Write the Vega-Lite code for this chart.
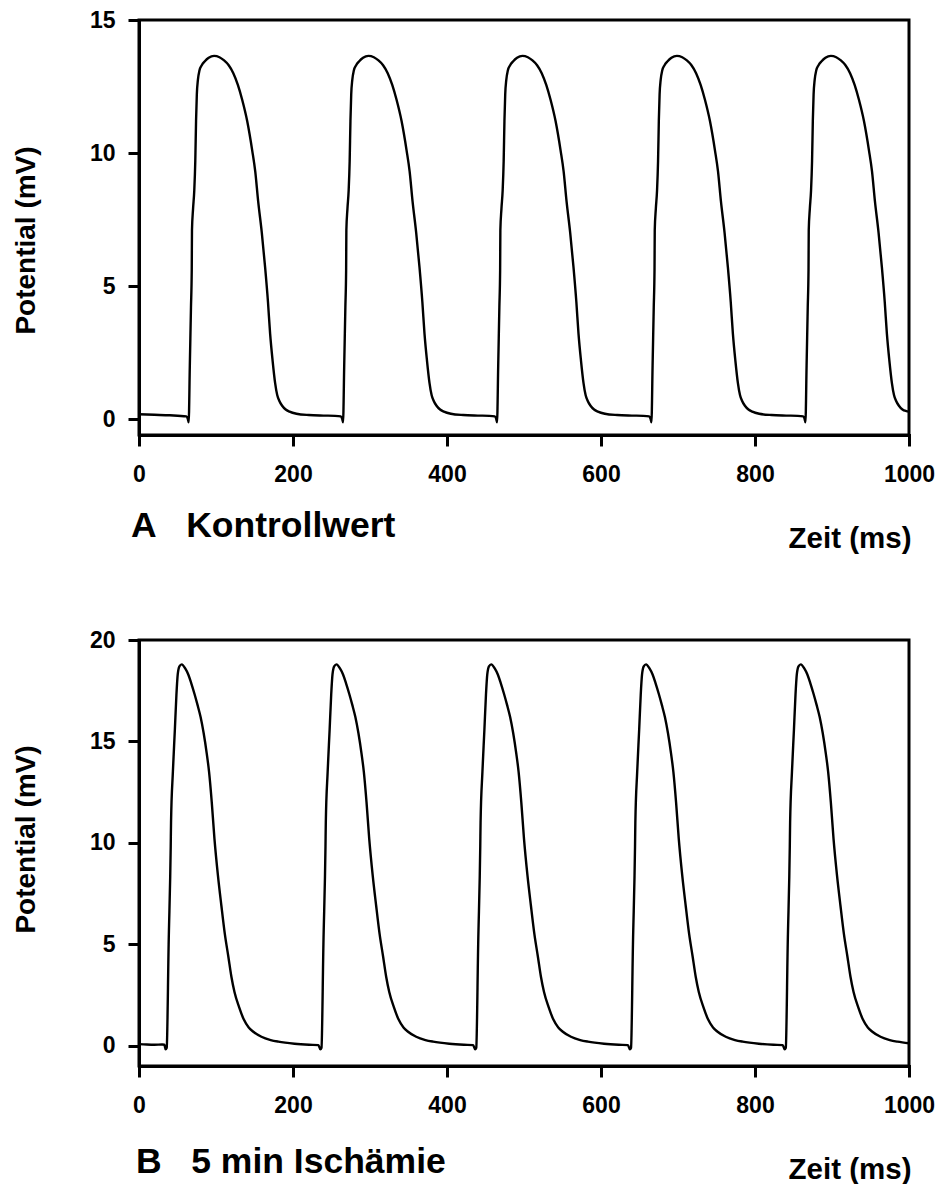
{
  "$schema": "https://vega.github.io/schema/vega-lite/v6.json",
  "background": "white",
  "padding": {"left": 10, "top": 7, "right": 5, "bottom": 0},
  "spacing": 73,
  "config": {
    "font": "Liberation Sans",
    "view": {"stroke": "black", "strokeWidth": 3},
    "axis": {
      "grid": false,
      "domainColor": "black",
      "domainWidth": 3,
      "domainCap": "square",
      "tickColor": "black",
      "tickWidth": 3,
      "tickSize": 11,
      "labelFont": "Liberation Sans",
      "labelFontSize": 23,
      "labelFontWeight": "bold",
      "labelColor": "black",
      "labelFlush": false,
      "labelOverlap": false,
      "titleFont": "Liberation Sans",
      "titleFontSize": 28,
      "titleFontWeight": "bold",
      "titleColor": "black"
    },
    "axisX": {"labelPadding": 17, "titleX": 772, "titleY": 112, "titleAlign": "right", "titleAnchor": "end", "titleBaseline": "alphabetic", "titleFontSize": 29.5},
    "axisY": {"labelPadding": 13, "titleX": -113, "titleBaseline": "middle", "titleAngle": -90, "titleAlign": "center"},
    "title": {"font": "Liberation Sans", "fontSize": 35.5, "fontWeight": "bold", "color": "black", "orient": "bottom", "anchor": "start", "frame": "group", "baseline": "alphabetic"}
  },
  "datasets": {
    "A": [
      {"t":0,"v":0.18},{"t":20,"v":0.16},{"t":40,"v":0.14},{"t":61.5,"v":0.1},{"t":63.5,"v":0.0},
      {"t":64.5,"v":-0.12},{"t":66,"v":2.0},{"t":67.5,"v":4.2},{"t":68.5,"v":5.6},{"t":68.8,"v":7.1},{"t":70.2,"v":7.9},{"t":71.8,"v":8.6},{"t":73.1,"v":9.7},{"t":74.1,"v":11.2},{"t":75.1,"v":12.2},{"t":76.5,"v":12.75},{"t":78.5,"v":13.1},{"t":81.5,"v":13.3},{"t":85.5,"v":13.45},{"t":90.5,"v":13.58},{"t":97.5,"v":13.65},{"t":104.5,"v":13.6},{"t":110.5,"v":13.48},{"t":116.5,"v":13.3},{"t":122.5,"v":13.0},{"t":128.5,"v":12.55},{"t":134,"v":12.0},{"t":140.5,"v":11.2},{"t":147,"v":10.1},{"t":151,"v":9.3},{"t":154.7,"v":8.2},{"t":159.5,"v":7.0},{"t":163.8,"v":5.7},{"t":167.5,"v":4.4},{"t":170.3,"v":3.2},{"t":173.5,"v":2.2},{"t":176.8,"v":1.35},{"t":179.5,"v":0.9},{"t":182,"v":0.7},{"t":185.9,"v":0.5},{"t":190.5,"v":0.36},{"t":195.5,"v":0.28},{"t":204.5,"v":0.2},{"t":220.5,"v":0.15},{"t":239.5,"v":0.13},{"t":254.5,"v":0.12},{"t":262,"v":0.1},{"t":264,"v":0.0},
      {"t":265,"v":-0.12},{"t":266.5,"v":2.0},{"t":268,"v":4.2},{"t":269,"v":5.6},{"t":269.3,"v":7.1},{"t":270.7,"v":7.9},{"t":272.3,"v":8.6},{"t":273.6,"v":9.7},{"t":274.6,"v":11.2},{"t":275.6,"v":12.2},{"t":277,"v":12.75},{"t":279,"v":13.1},{"t":282,"v":13.3},{"t":286,"v":13.45},{"t":291,"v":13.58},{"t":298,"v":13.65},{"t":305,"v":13.6},{"t":311,"v":13.48},{"t":317,"v":13.3},{"t":323,"v":13.0},{"t":329,"v":12.55},{"t":334.5,"v":12.0},{"t":341,"v":11.2},{"t":347.5,"v":10.1},{"t":351.5,"v":9.3},{"t":355.2,"v":8.2},{"t":360,"v":7.0},{"t":364.3,"v":5.7},{"t":368,"v":4.4},{"t":370.8,"v":3.2},{"t":374,"v":2.2},{"t":377.3,"v":1.35},{"t":380,"v":0.9},{"t":382.5,"v":0.7},{"t":386.4,"v":0.5},{"t":391,"v":0.36},{"t":396,"v":0.28},{"t":405,"v":0.2},{"t":421,"v":0.15},{"t":440,"v":0.13},{"t":455,"v":0.12},{"t":462,"v":0.1},{"t":464,"v":0.0},
      {"t":465,"v":-0.12},{"t":466.5,"v":2.0},{"t":468,"v":4.2},{"t":469,"v":5.6},{"t":469.3,"v":7.1},{"t":470.7,"v":7.9},{"t":472.3,"v":8.6},{"t":473.6,"v":9.7},{"t":474.6,"v":11.2},{"t":475.6,"v":12.2},{"t":477,"v":12.75},{"t":479,"v":13.1},{"t":482,"v":13.3},{"t":486,"v":13.45},{"t":491,"v":13.58},{"t":498,"v":13.65},{"t":505,"v":13.6},{"t":511,"v":13.48},{"t":517,"v":13.3},{"t":523,"v":13.0},{"t":529,"v":12.55},{"t":534.5,"v":12.0},{"t":541,"v":11.2},{"t":547.5,"v":10.1},{"t":551.5,"v":9.3},{"t":555.2,"v":8.2},{"t":560,"v":7.0},{"t":564.3,"v":5.7},{"t":568,"v":4.4},{"t":570.8,"v":3.2},{"t":574,"v":2.2},{"t":577.3,"v":1.35},{"t":580,"v":0.9},{"t":582.5,"v":0.7},{"t":586.4,"v":0.5},{"t":591,"v":0.36},{"t":596,"v":0.28},{"t":605,"v":0.2},{"t":621,"v":0.15},{"t":640,"v":0.13},{"t":655,"v":0.12},{"t":662.5,"v":0.1},{"t":664.5,"v":0.0},
      {"t":665.5,"v":-0.12},{"t":667,"v":2.0},{"t":668.5,"v":4.2},{"t":669.5,"v":5.6},{"t":669.8,"v":7.1},{"t":671.2,"v":7.9},{"t":672.8,"v":8.6},{"t":674.1,"v":9.7},{"t":675.1,"v":11.2},{"t":676.1,"v":12.2},{"t":677.5,"v":12.75},{"t":679.5,"v":13.1},{"t":682.5,"v":13.3},{"t":686.5,"v":13.45},{"t":691.5,"v":13.58},{"t":698.5,"v":13.65},{"t":705.5,"v":13.6},{"t":711.5,"v":13.48},{"t":717.5,"v":13.3},{"t":723.5,"v":13.0},{"t":729.5,"v":12.55},{"t":735,"v":12.0},{"t":741.5,"v":11.2},{"t":748,"v":10.1},{"t":752,"v":9.3},{"t":755.7,"v":8.2},{"t":760.5,"v":7.0},{"t":764.8,"v":5.7},{"t":768.5,"v":4.4},{"t":771.3,"v":3.2},{"t":774.5,"v":2.2},{"t":777.8,"v":1.35},{"t":780.5,"v":0.9},{"t":783,"v":0.7},{"t":786.9,"v":0.5},{"t":791.5,"v":0.36},{"t":796.5,"v":0.28},{"t":805.5,"v":0.2},{"t":821.5,"v":0.15},{"t":840.5,"v":0.13},{"t":855.5,"v":0.12},{"t":862.5,"v":0.1},{"t":864.5,"v":0.0},
      {"t":865.5,"v":-0.12},{"t":867,"v":2.0},{"t":868.5,"v":4.2},{"t":869.5,"v":5.6},{"t":869.8,"v":7.1},{"t":871.2,"v":7.9},{"t":872.8,"v":8.6},{"t":874.1,"v":9.7},{"t":875.1,"v":11.2},{"t":876.1,"v":12.2},{"t":877.5,"v":12.75},{"t":879.5,"v":13.1},{"t":882.5,"v":13.3},{"t":886.5,"v":13.45},{"t":891.5,"v":13.58},{"t":898.5,"v":13.65},{"t":905.5,"v":13.6},{"t":911.5,"v":13.48},{"t":917.5,"v":13.3},{"t":923.5,"v":13.0},{"t":929.5,"v":12.55},{"t":935,"v":12.0},{"t":941.5,"v":11.2},{"t":948,"v":10.1},{"t":952,"v":9.3},{"t":955.7,"v":8.2},{"t":960.5,"v":7.0},{"t":964.8,"v":5.7},{"t":968.5,"v":4.4},{"t":971.3,"v":3.2},{"t":974.5,"v":2.2},{"t":977.8,"v":1.35},{"t":980.5,"v":0.9},{"t":983,"v":0.7},{"t":986.9,"v":0.5},{"t":991.5,"v":0.36},{"t":996.5,"v":0.3},{"t":1000,"v":0.28}
    ],
    "B": [
      {"t":0,"v":0.08},{"t":10,"v":0.06},{"t":20,"v":0.05},{"t":30,"v":0.06},{"t":33,"v":0.05},{"t":34.5,"v":-0.18},
      {"t":36,"v":-0.1},{"t":38.5,"v":5.0},{"t":41.2,"v":9.85},{"t":41.6,"v":11.0},{"t":44,"v":13.5},{"t":46.6,"v":15.6},{"t":48.6,"v":17.3},{"t":50.3,"v":18.3},{"t":52.5,"v":18.7},{"t":55.5,"v":18.8},{"t":60,"v":18.6},{"t":64,"v":18.3},{"t":68,"v":17.85},{"t":72,"v":17.35},{"t":76,"v":16.8},{"t":80,"v":16.2},{"t":84,"v":15.4},{"t":88,"v":14.4},{"t":91,"v":13.5},{"t":94.5,"v":12.0},{"t":98,"v":10.2},{"t":102.5,"v":8.4},{"t":107,"v":6.9},{"t":111.5,"v":5.5},{"t":116,"v":4.4},{"t":120,"v":3.4},{"t":124,"v":2.65},{"t":130,"v":1.9},{"t":136,"v":1.3},{"t":142.5,"v":0.9},{"t":148,"v":0.7},{"t":159,"v":0.44},{"t":171,"v":0.28},{"t":181,"v":0.2},{"t":202,"v":0.1},{"t":221,"v":0.05},{"t":233,"v":0.03},{"t":235.5,"v":-0.18},
      {"t":237,"v":-0.1},{"t":239.5,"v":5.0},{"t":242.2,"v":9.85},{"t":242.6,"v":11.0},{"t":245,"v":13.5},{"t":247.6,"v":15.6},{"t":249.6,"v":17.3},{"t":251.3,"v":18.3},{"t":253.5,"v":18.7},{"t":256.5,"v":18.8},{"t":261,"v":18.6},{"t":265,"v":18.3},{"t":269,"v":17.85},{"t":273,"v":17.35},{"t":277,"v":16.8},{"t":281,"v":16.2},{"t":285,"v":15.4},{"t":289,"v":14.4},{"t":292,"v":13.5},{"t":295.5,"v":12.0},{"t":299,"v":10.2},{"t":303.5,"v":8.4},{"t":308,"v":6.9},{"t":312.5,"v":5.5},{"t":317,"v":4.4},{"t":321,"v":3.4},{"t":325,"v":2.65},{"t":331,"v":1.9},{"t":337,"v":1.3},{"t":343.5,"v":0.9},{"t":349,"v":0.7},{"t":360,"v":0.44},{"t":372,"v":0.28},{"t":382,"v":0.2},{"t":403,"v":0.1},{"t":422,"v":0.05},{"t":434,"v":0.03},{"t":436.5,"v":-0.18},
      {"t":438,"v":-0.1},{"t":440.5,"v":5.0},{"t":443.2,"v":9.85},{"t":443.6,"v":11.0},{"t":446,"v":13.5},{"t":448.6,"v":15.6},{"t":450.6,"v":17.3},{"t":452.3,"v":18.3},{"t":454.5,"v":18.7},{"t":457.5,"v":18.8},{"t":462,"v":18.6},{"t":466,"v":18.3},{"t":470,"v":17.85},{"t":474,"v":17.35},{"t":478,"v":16.8},{"t":482,"v":16.2},{"t":486,"v":15.4},{"t":490,"v":14.4},{"t":493,"v":13.5},{"t":496.5,"v":12.0},{"t":500,"v":10.2},{"t":504.5,"v":8.4},{"t":509,"v":6.9},{"t":513.5,"v":5.5},{"t":518,"v":4.4},{"t":522,"v":3.4},{"t":526,"v":2.65},{"t":532,"v":1.9},{"t":538,"v":1.3},{"t":544.5,"v":0.9},{"t":550,"v":0.7},{"t":561,"v":0.44},{"t":573,"v":0.28},{"t":583,"v":0.2},{"t":604,"v":0.1},{"t":623,"v":0.05},{"t":635,"v":0.03},{"t":637.5,"v":-0.18},
      {"t":639,"v":-0.1},{"t":641.5,"v":5.0},{"t":644.2,"v":9.85},{"t":644.6,"v":11.0},{"t":647,"v":13.5},{"t":649.6,"v":15.6},{"t":651.6,"v":17.3},{"t":653.3,"v":18.3},{"t":655.5,"v":18.7},{"t":658.5,"v":18.8},{"t":663,"v":18.6},{"t":667,"v":18.3},{"t":671,"v":17.85},{"t":675,"v":17.35},{"t":679,"v":16.8},{"t":683,"v":16.2},{"t":687,"v":15.4},{"t":691,"v":14.4},{"t":694,"v":13.5},{"t":697.5,"v":12.0},{"t":701,"v":10.2},{"t":705.5,"v":8.4},{"t":710,"v":6.9},{"t":714.5,"v":5.5},{"t":719,"v":4.4},{"t":723,"v":3.4},{"t":727,"v":2.65},{"t":733,"v":1.9},{"t":739,"v":1.3},{"t":745.5,"v":0.9},{"t":751,"v":0.7},{"t":762,"v":0.44},{"t":774,"v":0.28},{"t":784,"v":0.2},{"t":805,"v":0.1},{"t":824,"v":0.05},{"t":836,"v":0.03},{"t":838.5,"v":-0.18},
      {"t":840,"v":-0.1},{"t":842.5,"v":5.0},{"t":845.2,"v":9.85},{"t":845.6,"v":11.0},{"t":848,"v":13.5},{"t":850.6,"v":15.6},{"t":852.6,"v":17.3},{"t":854.3,"v":18.3},{"t":856.5,"v":18.7},{"t":859.5,"v":18.8},{"t":864,"v":18.6},{"t":868,"v":18.3},{"t":872,"v":17.85},{"t":876,"v":17.35},{"t":880,"v":16.8},{"t":884,"v":16.2},{"t":888,"v":15.4},{"t":892,"v":14.4},{"t":895,"v":13.5},{"t":898.5,"v":12.0},{"t":902,"v":10.2},{"t":906.5,"v":8.4},{"t":911,"v":6.9},{"t":915.5,"v":5.5},{"t":920,"v":4.4},{"t":924,"v":3.4},{"t":928,"v":2.65},{"t":934,"v":1.9},{"t":940,"v":1.3},{"t":946.5,"v":0.9},{"t":952,"v":0.7},{"t":963,"v":0.44},{"t":975,"v":0.28},{"t":985,"v":0.2},{"t":1000,"v":0.12}
    ]
  },
  "vconcat": [
    {
      "width": 770,
      "height": 415,
      "data": {"name": "A"},
      "title": {"text": "A\u00a0\u00a0\u00a0Kontrollwert", "offset": -44, "dx": -8},
      "mark": {"type": "line", "color": "black", "strokeWidth": 2.4, "interpolate": "monotone"},
      "encoding": {
        "x": {"field": "t", "type": "quantitative", "scale": {"domain": [0, 1000], "nice": false}, "axis": {"values": [0, 200, 400, 600, 800, 1000], "format": "d", "title": "Zeit (ms)"}},
        "y": {"field": "v", "type": "quantitative", "scale": {"domain": [-0.6, 15], "nice": false, "zero": false}, "axis": {"values": [0, 5, 10, 15], "format": "d", "title": "Potential (mV)", "titleY": 220}}
      }
    },
    {
      "width": 770,
      "height": 426,
      "data": {"name": "B"},
      "title": {"text": "B\u00a0\u00a0\u00a05 min Ischämie", "offset": -39, "dx": -3},
      "mark": {"type": "line", "color": "black", "strokeWidth": 2.4, "interpolate": "monotone"},
      "encoding": {
        "x": {"field": "t", "type": "quantitative", "scale": {"domain": [0, 1000], "nice": false}, "axis": {"values": [0, 200, 400, 600, 800, 1000], "format": "d", "title": "Zeit (ms)"}},
        "y": {"field": "v", "type": "quantitative", "scale": {"domain": [-1, 20], "nice": false, "zero": false}, "axis": {"values": [0, 5, 10, 15, 20], "format": "d", "title": "Potential (mV)", "titleY": 199}}
      }
    }
  ]
}
